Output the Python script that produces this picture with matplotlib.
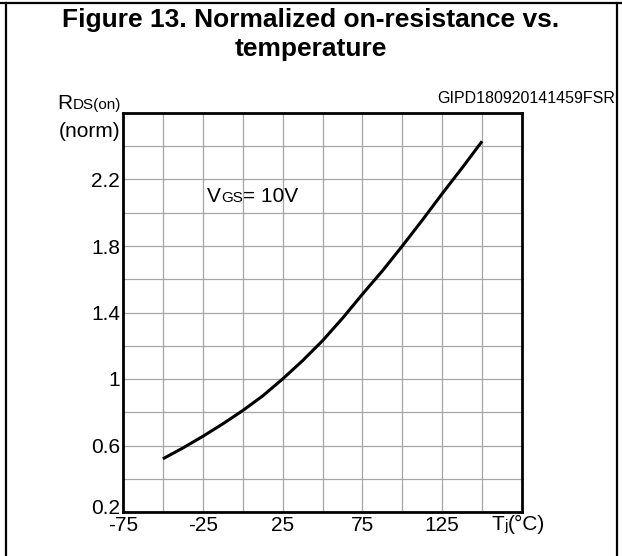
import matplotlib
matplotlib.use("Agg")
import matplotlib.pyplot as plt
from matplotlib.lines import Line2D
from matplotlib.offsetbox import TextArea, HPacker, AnnotationBbox
from matplotlib.transforms import ScaledTranslation
import numpy as np

# values
temps = [-50, -37.5, -25, -12.5, 0, 12.5, 25, 37.5, 50, 62.5, 75, 87.5, 100, 112.5, 125, 137.5, 150]
rds_norm = [0.52, 0.585, 0.655, 0.73, 0.81, 0.898, 1.0, 1.11, 1.23, 1.365, 1.51, 1.65, 1.80, 1.955, 2.115, 2.27, 2.43]

x_ticks = [-75, -50, -25, 0, 25, 50, 75, 100, 125, 150, 175]
x_labels = ["-75", "", "-25", "", "25", "", "75", "", "125", "", ""]
y_ticks = [0.2, 0.4, 0.6, 0.8, 1.0, 1.2, 1.4, 1.6, 1.8, 2.0, 2.2, 2.4, 2.6]
y_labels = ["0.2", "", "0.6", "", "1", "", "1.4", "", "1.8", "", "2.2", "", ""]

W, H = 622, 556
plt.rcParams["font.family"] = ["Liberation Sans", "DejaVu Sans"]

fig = plt.figure(figsize=(W / 100, H / 100), dpi=100)
fig.patch.set_facecolor("white")


def fx(px):
    return px / W


def fy(py):
    return 1 - py / H


ax = fig.add_axes([fx(123), fy(512), fx(522) - fx(123), fy(113) - fy(512)])
ax.plot(temps, rds_norm, color="black", lw=2.2, solid_capstyle="butt", zorder=3)
ax.set_xlim(-75, 175)
ax.set_ylim(0.2, 2.6)
ax.set_xticks(x_ticks)
ax.set_xticklabels(x_labels)
ax.set_yticks(y_ticks)
ax.set_yticklabels(y_labels)
ax.tick_params(length=0, labelsize=15, colors="black")
ax.tick_params(axis="x", pad=3)
ax.tick_params(axis="y", pad=2)
ax.grid(True, color="#a6a6a6", lw=0.9)
ax.set_axisbelow(True)
for s in ax.spines.values():
    s.set_linewidth(2.0)
    s.set_color("black")

# nudge the bottom "0.2" up a little, as on the datasheet
lbl = ax.get_yticklabels()[0]
lbl.set_transform(lbl.get_transform() + ScaledTranslation(0, 5 / 100, fig.dpi_scale_trans))

# page frame
frame_kw = dict(color="black", lw=1.6, transform=fig.transFigure)
fig.add_artist(Line2D([0, 1], [fy(3), fy(3)], **frame_kw))
fig.add_artist(Line2D([fx(6), fx(6)], [0, fy(3)], **frame_kw))
fig.add_artist(Line2D([fx(617), fx(617)], [0, fy(3)], **frame_kw))

fig.text(0.5, fy(20), "Figure 13. Normalized on-resistance vs.", ha="center", va="center",
         fontsize=19, weight="bold")
fig.text(0.5, fy(49), "temperature", ha="center", va="center", fontsize=19, weight="bold")
fig.text(fx(615), fy(103), "GIPD180920141459FSR", ha="right", va="baseline", fontsize=11.5)


def mixed(parts, xy, align):
    box = HPacker(children=[TextArea(t, textprops=dict(fontsize=s)) for t, s in parts],
                  align="baseline", pad=0, sep=0)
    ab = AnnotationBbox(box, xy, xycoords="figure fraction", box_alignment=align,
                        frameon=False, pad=0)
    fig.add_artist(ab)


mixed([("R", 15), ("DS(on)", 11)], (fx(121), fy(113)), (1, 0))
fig.text(fx(120), fy(137), "(norm)", ha="right", va="baseline", fontsize=15)
mixed([("V", 15), ("GS", 11), ("= 10V", 15)], (fx(207), fy(206)), (0, 0))
mixed([("T", 15), ("j", 11), ("(°C)", 15)], (fx(518), fy(524)), (0.5, 0.5))

fig.savefig("out.png", dpi=100)
